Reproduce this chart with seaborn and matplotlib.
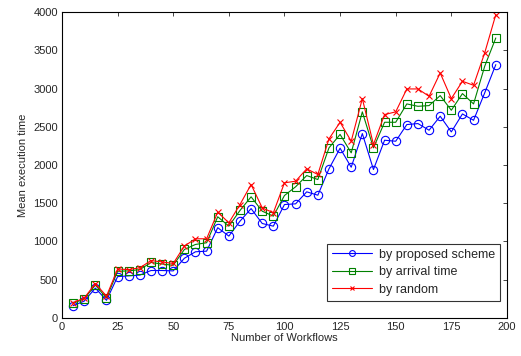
import numpy as np
import pandas as pd
import matplotlib
matplotlib.use("Agg")
import matplotlib.pyplot as plt
import seaborn as sns

# --------------------------------------------------------------
# Data
# --------------------------------------------------------------

workflows = list(range(5, 200, 5))

proposed = [160, 220, 390, 230, 540, 550, 560, 620, 620, 615,
            780, 865, 873, 1180, 1070, 1265, 1430, 1235, 1200, 1483,
            1492, 1649, 1605, 1950, 2220, 1971, 2411, 1941, 2324, 2311,
            2529, 2542, 2455, 2638, 2433, 2668, 2585, 2943, 3313]

arrival = [190, 250, 430, 260, 610, 615, 632, 725, 705, 688,
           895, 961, 983, 1323, 1200, 1405, 1584, 1396, 1331, 1601,
           1715, 1862, 1810, 2224, 2400, 2159, 2695, 2224, 2559, 2559,
           2799, 2768, 2777, 2908, 2716, 2934, 2799, 3291, 3662]

random_ = [200, 260, 450, 285, 640, 632, 656, 750, 732, 712,
           940, 1035, 1035, 1383, 1244, 1483, 1745, 1440, 1375, 1767,
           1788, 1950, 1876, 2342, 2559, 2311, 2869, 2268, 2660, 2695,
           2995, 2995, 2899, 3204, 2869, 3095, 3043, 3466, 3967]

labels = ["by proposed scheme", "by arrival time", "by random"]

df = pd.DataFrame({
    "workflows": workflows * 3,
    "time": proposed + arrival + random_,
    "scheme": [labels[0]] * len(workflows) + [labels[1]] * len(workflows) + [labels[2]] * len(workflows),
})

# --------------------------------------------------------------
# Plot
# --------------------------------------------------------------

sns.set_style("white")
plt.rcParams["font.family"] = ["Liberation Sans", "DejaVu Sans"]

fig = plt.figure(figsize=(5.21, 3.56), dpi=100)
ax = fig.add_axes([0.119, 0.107, 0.854, 0.859])

colors = {labels[0]: "#0000ff", labels[1]: "#008000", labels[2]: "#ff0000"}
markers = {labels[0]: "o", labels[1]: "s", labels[2]: "x"}
sizes = {labels[0]: 6, labels[1]: 6, labels[2]: 4.5}

for lab in labels:
    sub = df[df["scheme"] == lab]
    sns.lineplot(
        data=sub, x="workflows", y="time", ax=ax,
        color=colors[lab], marker=markers[lab], markersize=sizes[lab],
        markerfacecolor="none", markeredgecolor=colors[lab],
        markeredgewidth=0.8, linewidth=0.8, label=lab,
    )

ax.set_xlim(0, 200)
ax.set_ylim(0, 4000)
ax.set_xticks(range(0, 201, 25))
ax.set_yticks(range(0, 4001, 500))
ax.tick_params(direction="in", top=True, right=True, labelsize=8,
               length=3, width=0.6, pad=3)
for s in ax.spines.values():
    s.set_color("black")
    s.set_linewidth(0.8)

ax.set_xlabel("Number of Workflows", fontsize=8, labelpad=1)
ax.set_ylabel("Mean execution time", fontsize=8, labelpad=4)

leg = ax.legend(loc="lower right", bbox_to_anchor=(0.984, 0.056),
                borderaxespad=0, fontsize=9, frameon=True, fancybox=False,
                edgecolor="black", handlelength=3.2, handletextpad=0.5,
                labelspacing=0.45, markerscale=0.7, borderpad=0.4)
leg.get_frame().set_linewidth(0.8)

plt.savefig("out.png", dpi=100)
